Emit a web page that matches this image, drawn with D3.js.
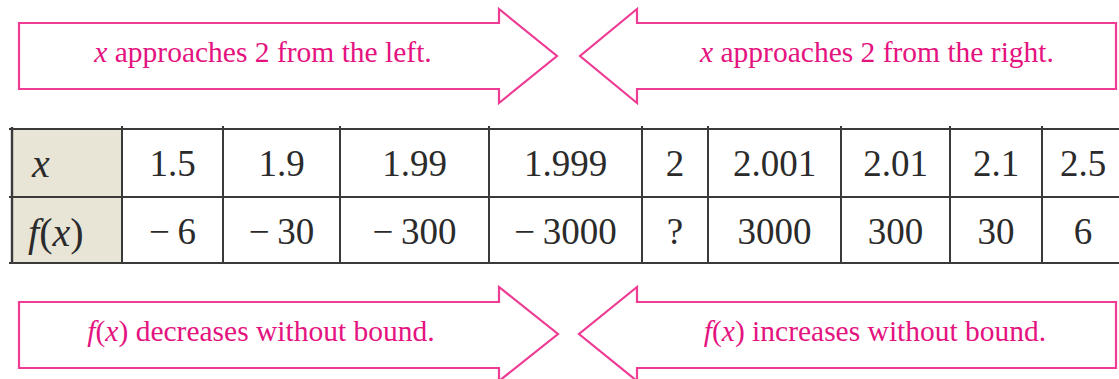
<!DOCTYPE html>
<html>
<head>
<meta charset="utf-8">
<script src="https://cdn.jsdelivr.net/npm/d3@7"></script>
<style>
  html, body { margin: 0; padding: 0; background: #fff; }
  svg { display: block; }
  text { font-family: "Liberation Serif", "Times New Roman", Times, serif; }
</style>
</head>
<body>
<svg id="chart" width="1119" height="379"></svg>
<script>
// ---- data ----
const xValues = ["1.5", "1.9", "1.99", "1.999", "2", "2.001", "2.01", "2.1", "2.5"];
const fValues = ["\u22126", "\u221230", "\u2212300", "\u22123000", "?", "3000", "300", "30", "6"];
const rowLabels = ["x", "f(x)"];
const topCaptions = ["approaches 2 from the left.", "approaches 2 from the right."];
const bottomCaptions = ["decreases without bound.", "increases without bound."];

// ---- layout ----
const W = 1119, H = 379;
const colLeft = [122, 223, 340, 489, 642, 708, 841, 950, 1042];
const colRight = [223, 340, 489, 642, 708, 841, 950, 1042, 1124];
const tableLeft = 12, headRight = 122;
const rowY = d3.scaleOrdinal().domain(rowLabels).range([129, 197]);
const rowH = 67;
const xLeft = d3.scaleOrdinal().domain(xValues).range(colLeft);
const xRight = d3.scaleOrdinal().domain(xValues).range(colRight);

const pink = "#ee3b93";
const textPink = "#e4137f";
const lineCol = "#3a3a3a";

const svg = d3.select("#chart");

// ---- arrows ----
function arrowPath(x0, xs, xt, yT, yB, hT, hB) {
  const ym = (hT + hB) / 2;
  return `M${x0},${yT}L${xs},${yT}L${xs},${hT}L${xt},${ym}L${xs},${hB}L${xs},${yB}L${x0},${yB}Z`;
}
const arrows = [
  arrowPath(19, 499, 557, 23, 89, 9, 103),
  arrowPath(1116, 637, 580, 23, 89, 9, 103),
  arrowPath(19, 499, 558, 302, 368, 287, 381),
  arrowPath(1116, 637, 579, 302, 368, 287, 381)
];
svg.append("g").selectAll("path").data(arrows).join("path")
  .attr("d", d => d)
  .attr("fill", "#fff")
  .attr("stroke", pink)
  .attr("stroke-width", 2.2)
  .attr("stroke-linejoin", "miter");

// captions
const capFont = 29.5;
function caption(cx, cy, italicPart, rest) {
  const t = svg.append("text")
    .attr("x", cx).attr("y", cy)
    .attr("text-anchor", "middle")
    .attr("dominant-baseline", "central")
    .attr("font-size", capFont)
    .attr("fill", textPink);
  italicPart(t);
  t.append("tspan").text(rest);
}
const italX = t => t.append("tspan").attr("font-style", "italic").text("x ");
const italF = t => {
  t.append("tspan").attr("font-style", "italic").text("f");
  t.append("tspan").text("(");
  t.append("tspan").attr("font-style", "italic").text("x");
  t.append("tspan").text(") ");
};
caption(263, 52, italX, topCaptions[0]);
caption(877, 52, italX, topCaptions[1]);
caption(261, 331, italF, bottomCaptions[0]);
caption(875, 331, italF, bottomCaptions[1]);

// ---- table ----
const tbl = svg.append("g");
tbl.append("rect")
  .attr("x", tableLeft).attr("y", rowY("x"))
  .attr("width", headRight - tableLeft).attr("height", rowH * 2 - 1)
  .attr("fill", "#e8e5d6");

const tableBottom = rowY("f(x)") + rowH - 1;
[rowY("x"), rowY("f(x)"), tableBottom].forEach(y => {
  tbl.append("line").attr("x1", 9).attr("x2", W).attr("y1", y).attr("y2", y)
    .attr("stroke", lineCol).attr("stroke-width", 2);
});
tbl.append("line").attr("x1", tableLeft).attr("x2", tableLeft)
  .attr("y1", rowY("x") - 2).attr("y2", tableBottom)
  .attr("stroke", lineCol).attr("stroke-width", 2.4);
tbl.selectAll("line.v").data(xValues).join("line")
  .attr("class", "v")
  .attr("x1", d => xLeft(d)).attr("x2", d => xLeft(d))
  .attr("y1", rowY("x") - 3).attr("y2", tableBottom)
  .attr("stroke", lineCol).attr("stroke-width", 2);

const cellFont = 37;
const cellColor = "#2b2b2b";
const cx = d => (xLeft(d) + xRight(d)) / 2;
tbl.selectAll("text.xv").data(xValues).join("text")
  .attr("class", "xv")
  .attr("x", d => cx(d))
  .attr("y", rowY("x") + rowH / 2 + 1)
  .attr("text-anchor", "middle").attr("dominant-baseline", "central")
  .attr("font-size", cellFont).attr("fill", cellColor)
  .text(d => d);
tbl.selectAll("text.fv").data(fValues.map((v, i) => ({ v, k: xValues[i] }))).join("text")
  .attr("class", "fv")
  .attr("x", d => cx(d.k))
  .attr("y", rowY("f(x)") + rowH / 2 + 1)
  .attr("text-anchor", "middle").attr("dominant-baseline", "central")
  .attr("font-size", cellFont).attr("fill", cellColor)
  .text(d => d.v.replace("\u2212", "\u2212\u2009"));

const labFont = 40;
const lab1 = tbl.append("text")
  .attr("x", 32).attr("y", rowY("x") + rowH / 2)
  .attr("dominant-baseline", "central")
  .attr("font-size", labFont).attr("fill", cellColor);
lab1.append("tspan").attr("font-style", "italic").text("x");
const lab2 = tbl.append("text")
  .attr("x", 28).attr("y", rowY("f(x)") + rowH / 2 + 1)
  .attr("dominant-baseline", "central")
  .attr("font-size", labFont).attr("fill", cellColor);
lab2.append("tspan").attr("font-style", "italic").text("f");
lab2.append("tspan").text("(");
lab2.append("tspan").attr("font-style", "italic").text("x");
lab2.append("tspan").text(")");
</script>
</body>
</html>
